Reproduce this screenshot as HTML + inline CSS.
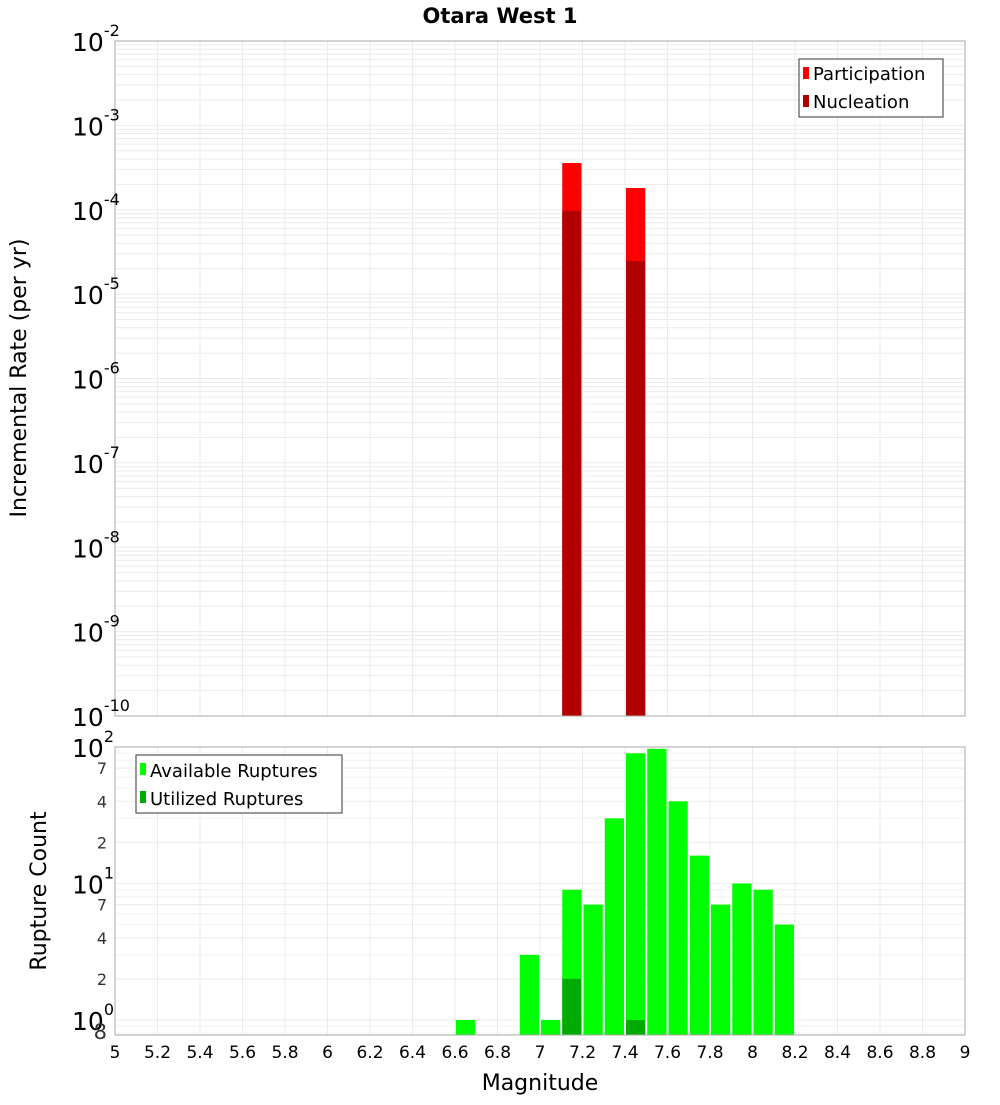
<!DOCTYPE html>
<html><head><meta charset="utf-8"><style>
body{margin:0;background:#fff;}
svg text{font-family:"DejaVu Sans","Liberation Sans",sans-serif;}
</style></head><body>
<svg id="chart" width="1000" height="1100" xmlns="http://www.w3.org/2000/svg">
<text x="500" y="23" text-anchor="middle" font-size="21" font-weight="bold">Otara West 1</text>
<g id="topPanel"></g>
<g id="botPanel"></g>
<text transform="translate(26,378) rotate(-90)" text-anchor="middle" font-size="22">Incremental Rate (per yr)</text>
<text transform="translate(46,891) rotate(-90)" text-anchor="middle" font-size="22">Rupture Count</text>
<text x="540" y="1090" text-anchor="middle" font-size="22">Magnitude</text>
<g>
<rect x="799" y="59" width="144" height="58" fill="#fff" stroke="#333" stroke-width="1"/>
<rect x="803" y="67" width="6" height="12" fill="#ff0000"/>
<text x="813" y="80" font-size="18">Participation</text>
<rect x="803" y="95" width="6" height="12" fill="#b00000"/>
<text x="813" y="108" font-size="18">Nucleation</text>
</g>
<g>
<rect x="136" y="755" width="206" height="58" fill="#fff" stroke="#333" stroke-width="1"/>
<rect x="140" y="763" width="6" height="12" fill="#00ff00"/>
<text x="150" y="777" font-size="18">Available Ruptures</text>
<rect x="140" y="791" width="6" height="12" fill="#00aa00"/>
<text x="150" y="805" font-size="18">Utilized Ruptures</text>
</g>
</svg>
<script>
const rateMags=[7.15,7.45];
const participation=[3.58e-4,1.81e-4];
const nucleation=[9.7e-5,2.47e-5];
const countMags=[6.65,6.95,7.05,7.15,7.25,7.35,7.45,7.55,7.65,7.75,7.85,7.95,8.05,8.15];
const available=[1,3,1,9,7,30,90,97,40,16,7,10,9,5];
const utilMags=[7.15,7.45];
const utilized=[2,1];
const xTicks=[5,5.2,5.4,5.6,5.8,6,6.2,6.4,6.6,6.8,7,7.2,7.4,7.6,7.8,8,8.2,8.4,8.6,8.8,9];
const rateExps=[-2,-3,-4,-5,-6,-7,-8,-9,-10];
const countMinor=[2,4,7,20,40,70];

const NS="http://www.w3.org/2000/svg";
const L=115,R=965;
const T1=41,B1=716,T2=747,B2=1035;
function X(m){return L+(m-5)/4*(R-L);}
function Y1(v){return T1+(-2-Math.log10(v))/8*(B1-T1);}
const cMin=0.776,cMax=100;
function Y2(v){return T2+(Math.log10(cMax)-Math.log10(v))/(Math.log10(cMax)-Math.log10(cMin))*(B2-T2);}
function mk(tag,at,par){const e=document.createElementNS(NS,tag);for(const k in at)e.setAttribute(k,at[k]);par.appendChild(e);return e;}
const topG=document.getElementById('topPanel'),botG=document.getElementById('botPanel');
const svgEl=document.getElementById('chart');
mk('rect',{x:L,y:T1,width:R-L,height:B1-T1,fill:'#fff'},topG);
mk('rect',{x:L,y:T2,width:R-L,height:B2-T2,fill:'#fff'},botG);
for(let e=-10;e<-2;e++){for(let k=1;k<10;k++){const v=k*Math.pow(10,e);const y=Y1(v);
 const g=mk('line',{x1:L,x2:R,y1:y,y2:y,stroke:'#ebebeb','stroke-width':1},topG);
 
 }}
[0.8,0.9,3,5,6,8,9,30,50,60,80,90].forEach(v=>{const y=Y2(v);if(y<=B2){mk('line',{x1:L,x2:R,y1:y,y2:y,stroke:'#f2f2f2','stroke-width':1},botG);}});
[1,10,100].concat(countMinor).forEach(v=>{const y=Y2(v);
 const g=mk('line',{x1:L,x2:R,y1:y,y2:y,stroke:'#ebebeb','stroke-width':1},botG);
 
 });
xTicks.forEach(t=>{const x=X(t);
 const a=mk('line',{x1:x,x2:x,y1:T1,y2:B1,stroke:'#ebebeb'},topG);
 
 
 const b=mk('line',{x1:x,x2:x,y1:T2,y2:B2,stroke:'#ebebeb'},botG);
 
 
 const tx=mk('text',{x:x,y:1058,'text-anchor':'middle','font-size':17},svgEl);tx.textContent=String(t);
 
 });
const bw=(X(5.1)-X(5))-2;
rateMags.forEach((m,i)=>{
 const x=X(m)-bw/2;
 const p=mk('rect',{x:x,y:Y1(participation[i]),width:bw,height:B1-Y1(participation[i]),fill:'#ff0000'},topG);
 
 
 const n=mk('rect',{x:x,y:Y1(nucleation[i]),width:bw,height:B1-Y1(nucleation[i]),fill:'#b00000'},topG);
 
 });
countMags.forEach((m,i)=>{
 const r=mk('rect',{x:X(m)-bw/2,y:Y2(available[i]),width:bw,height:B2-Y2(available[i]),fill:'#00ff00'},botG);
 
 });
utilMags.forEach((m,i)=>{
 const r=mk('rect',{x:X(m)-bw/2,y:Y2(utilized[i]),width:bw,height:B2-Y2(utilized[i]),fill:'#00aa00'},botG);
 
 });
mk('rect',{x:L,y:T1,width:R-L,height:B1-T1,fill:'none',stroke:'#aaa'},topG);
mk('rect',{x:L,y:T2,width:R-L,height:B2-T2,fill:'none',stroke:'#aaa'},botG);
rateExps.forEach(e=>{const y=Y1(Math.pow(10,e));
 const t=mk('text',{x:72,y:y+10,'font-size':25},svgEl);
 
 
 t.textContent='10';
 const s=mk('tspan',{dy:-15,'font-size':16},t);s.textContent=String(e);});
[0,1,2].forEach(e=>{const y=Y2(Math.pow(10,e));
 const t=mk('text',{x:72,y:y+10,'font-size':25},svgEl);
 
 
 t.textContent='10';
 const s=mk('tspan',{dy:-15,'font-size':16},t);s.textContent=String(e);});
[2,4,7,20,40,70,0.8].forEach(v=>{const y=Y2(v);
 const t=mk('text',{x:107,y:y+6,'text-anchor':'end','font-size':v<1?21:16,fill:'#333'},svgEl);
 
 
 t.textContent=v<1?'8':String(v<10?v:v/10);});
</script>
</body></html>
